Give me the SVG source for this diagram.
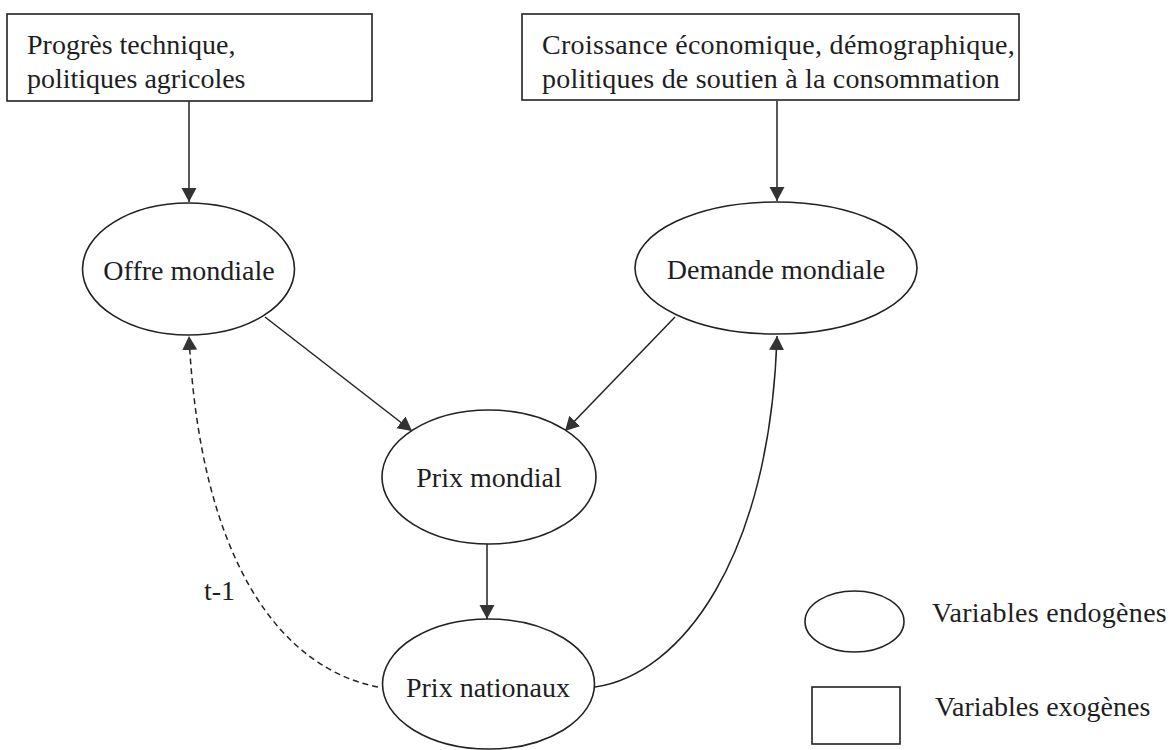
<svg xmlns="http://www.w3.org/2000/svg" width="1174" height="750" viewBox="0 0 1174 750">
<defs>
<style>
.shape{fill:#fff;stroke:#222;stroke-width:1.6}
.t{font-family:"Liberation Serif","Times New Roman",serif;font-size:28px;fill:#1e1e1e}
.c{text-anchor:middle}
.edge{fill:none;stroke:#222;stroke-width:1.5}
.dash{stroke-dasharray:6 4}
</style>
<marker id="arr" markerUnits="userSpaceOnUse" markerWidth="16" markerHeight="16" refX="14" refY="7.5" orient="auto">
<path d="M0,0 L14,7.5 L0,15 z" fill="#333"/>
</marker>
</defs>
<rect width="1174" height="750" fill="#fff"/>
<g id="connectors">
<line class="edge" x1="189" y1="101" x2="189" y2="202" marker-end="url(#arr)"/>
<line class="edge" x1="777" y1="101" x2="777" y2="201" marker-end="url(#arr)"/>
<line class="edge" x1="265" y1="317" x2="412" y2="431" marker-end="url(#arr)"/>
<line class="edge" x1="675" y1="317" x2="565" y2="431" marker-end="url(#arr)"/>
<line class="edge" x1="487" y1="544" x2="487" y2="619" marker-end="url(#arr)"/>
<path class="edge dash" d="M378,687 C280,668 200,560 189,336" marker-end="url(#arr)"/>
<path class="edge" d="M595,687 C680,675 770,560 777,336" marker-end="url(#arr)"/>
<text class="t" x="204" y="600">t-1</text>
</g>
<g id="exo1">
<rect class="shape" x="7" y="14" width="365" height="87"/>
<text class="t" x="27" y="54">Progrès technique,</text>
<text class="t" x="27" y="88">politiques agricoles</text>
</g>
<g id="exo2">
<rect class="shape" x="522" y="14" width="497" height="86"/>
<text class="t" x="542" y="54" letter-spacing="0.3">Croissance économique, démographique,</text>
<text class="t" x="542" y="88" letter-spacing="0.2">politiques de soutien à la consommation</text>
</g>
<g id="offre">
<ellipse class="shape" cx="188.5" cy="269" rx="106" ry="66"/>
<text class="t c" x="189" y="280">Offre mondiale</text>
</g>
<g id="demande">
<ellipse class="shape" cx="776" cy="268" rx="141" ry="66"/>
<text class="t c" x="776" y="279">Demande mondiale</text>
</g>
<g id="prixmondial">
<ellipse class="shape" cx="489" cy="477" rx="107" ry="67"/>
<text class="t c" x="489" y="487">Prix mondial</text>
</g>
<g id="prixnationaux">
<ellipse class="shape" cx="488.5" cy="684" rx="106" ry="65"/>
<text class="t c" x="488" y="697">Prix nationaux</text>
</g>
<g id="legend">
<ellipse class="shape" cx="854.5" cy="621.5" rx="49.5" ry="30.5"/>
<text class="t" x="932" y="622" letter-spacing="0.3">Variables endogènes</text>
<rect class="shape" x="812" y="687" width="88" height="57"/>
<text class="t" x="935" y="716">Variables exogènes</text>
</g>
</svg>
